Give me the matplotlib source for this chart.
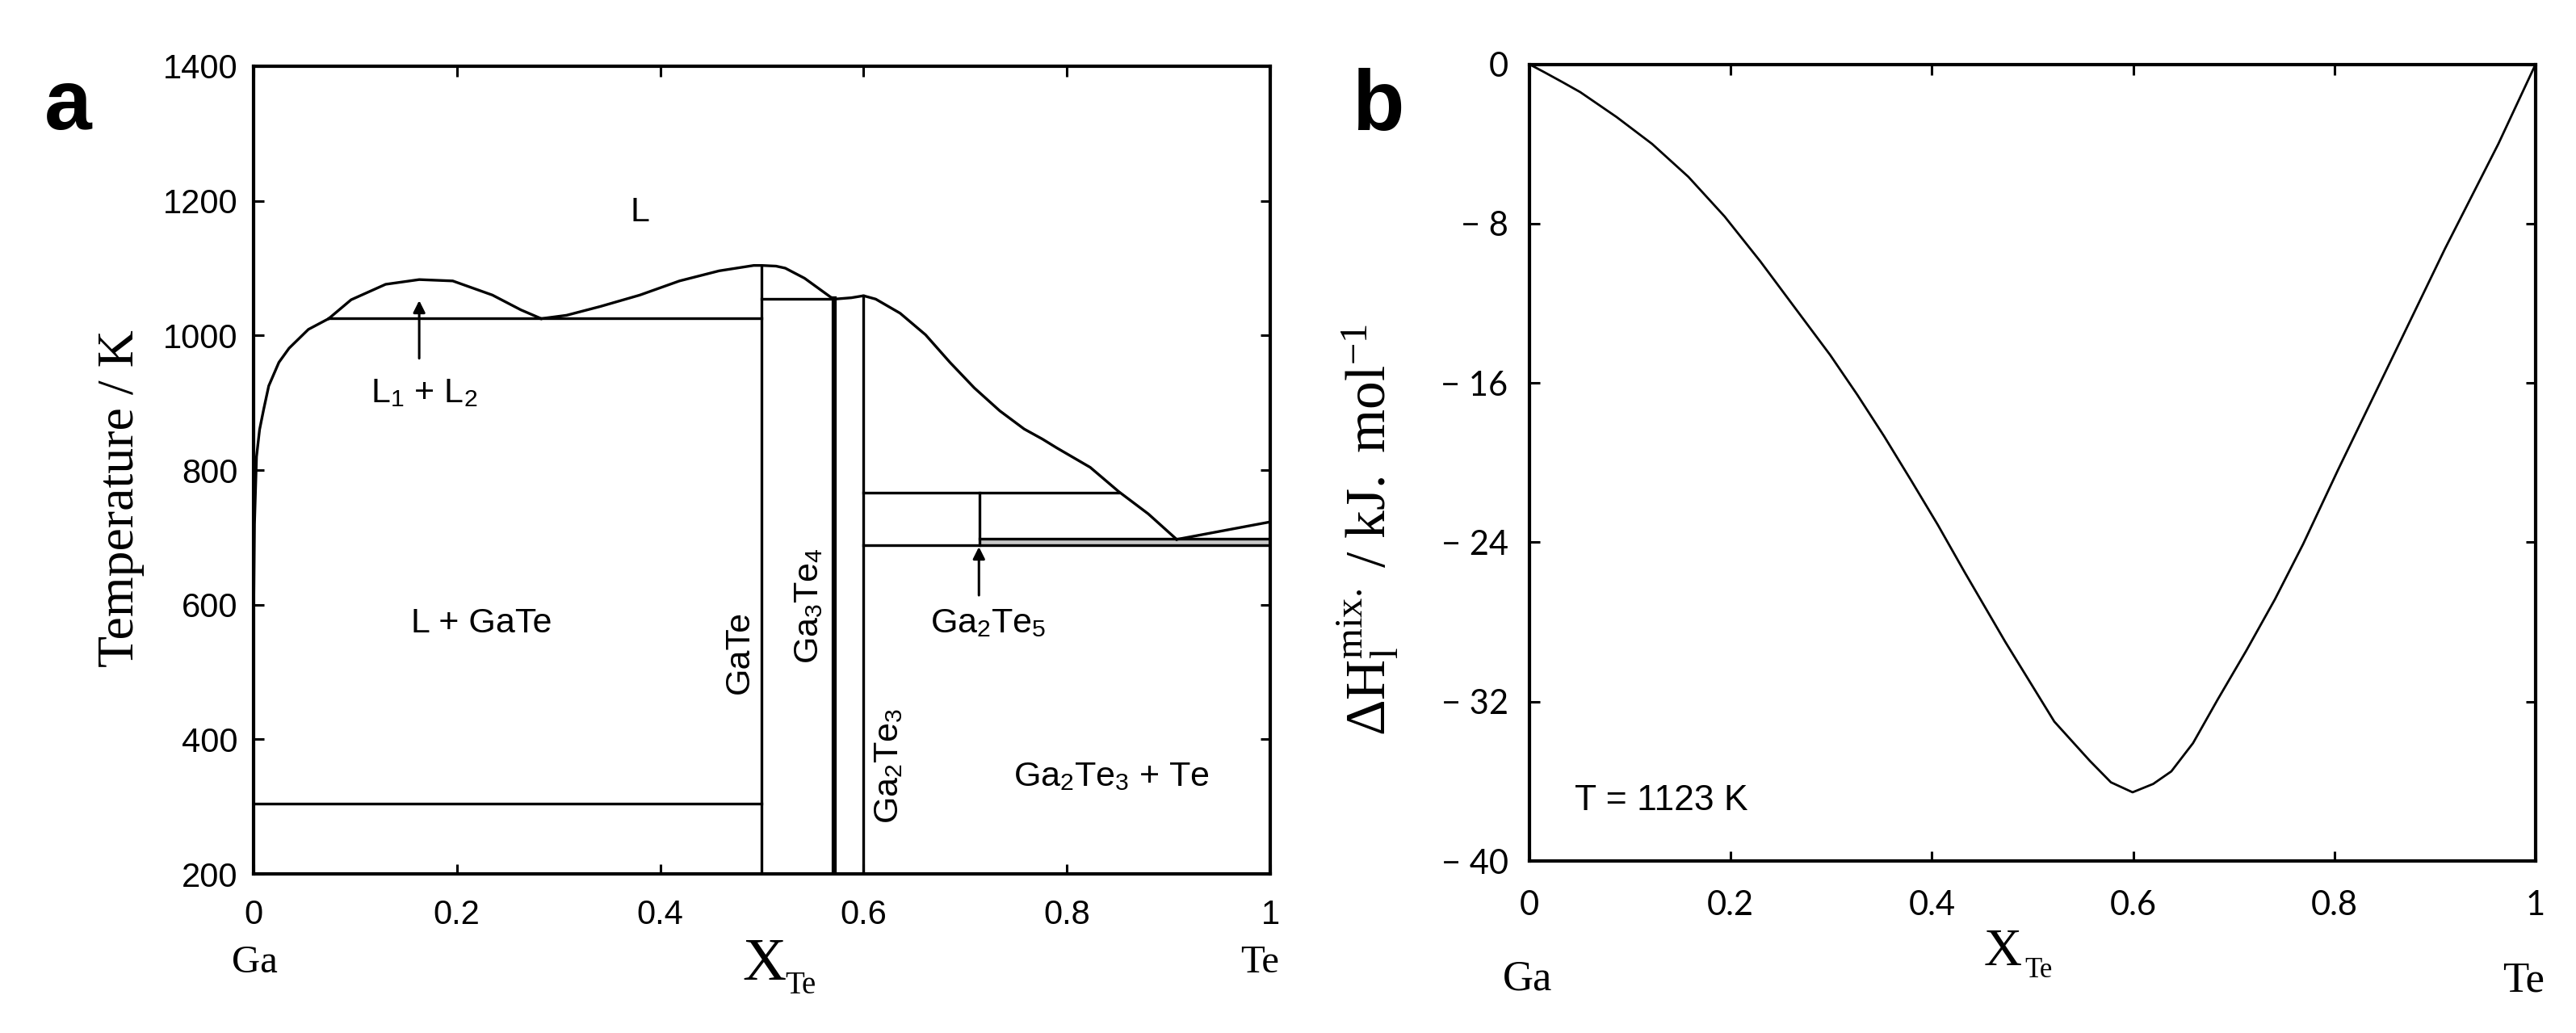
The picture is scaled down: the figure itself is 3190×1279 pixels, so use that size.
import matplotlib
matplotlib.use('Agg')
import matplotlib.pyplot as plt

plt.rcParams['mathtext.fontset'] = 'custom'
plt.rcParams['mathtext.rm'] = 'Liberation Serif'
plt.rcParams['mathtext.it'] = 'Liberation Serif:italic'
plt.rcParams['mathtext.bf'] = 'Liberation Serif:bold'
plt.rcParams['mathtext.sf'] = 'Liberation Sans'

# ---------- panel a: Ga-Te phase diagram ----------
ga_liq_x = [0.0, 0.001, 0.003, 0.006, 0.010, 0.015, 0.025, 0.035, 0.054, 0.074]
ga_liq_T = [560, 720, 820, 860, 890, 925, 960, 981, 1009, 1025]

dome_x = [0.074, 0.096, 0.130, 0.163, 0.196, 0.235, 0.263, 0.283]
dome_T = [1025, 1053, 1076, 1083, 1081, 1060, 1038, 1025]

gate_liq_x = [0.283, 0.308, 0.341, 0.380, 0.419, 0.458, 0.492, 0.500, 0.514, 0.523, 0.542, 0.5676, 0.5714]
gate_liq_T = [1025, 1030, 1043, 1060, 1081, 1096, 1104, 1104, 1103, 1100, 1085, 1057, 1054]

ga2te3_liq_x = [0.5714, 0.588, 0.600, 0.612, 0.636, 0.661, 0.685, 0.709, 0.734, 0.758,
                0.776, 0.790, 0.823, 0.851, 0.880, 0.908]
ga2te3_liq_T = [1054, 1056, 1059, 1054, 1033, 1001, 960, 922, 888, 861,
                846, 833, 804, 768, 735, 697]

te_liq_x = [0.908, 1.0]
te_liq_T = [697, 723]

# horizontal invariant lines: (x_start, x_end, T)
hlines_a = [
    (0.074, 0.500, 1025),
    (0.500, 0.5714, 1054),
    (0.600, 0.851, 767),
    (0.714, 1.000, 698),
    (0.600, 1.000, 688),
    (0.000, 0.500, 305),
]
# vertical compound lines: (x, T_bottom, T_top, width)
vlines_a = [
    (0.500, 200, 1104, 2.4),
    (0.5714, 200, 1054, 4.5),
    (0.600, 200, 1059, 2.4),
    (0.714, 688, 767, 2.4),
]

# ---------- panel b: enthalpy of mixing at 1123 K ----------
xte_b = [0.0, 0.0149, 0.033, 0.0506, 0.0867, 0.122, 0.158, 0.194, 0.2296, 0.2656,
         0.299, 0.326, 0.3525, 0.3795, 0.406, 0.4326, 0.473, 0.5217, 0.557, 0.578,
         0.5995, 0.620, 0.638, 0.6596, 0.684, 0.7125, 0.741, 0.769, 0.804, 0.857,
         0.910, 0.963, 1.0]
dh_b = [0.0, -0.4, -0.9, -1.4, -2.65, -4.0, -5.65, -7.64, -9.9, -12.34,
        -14.6, -16.6, -18.67, -20.9, -23.13, -25.5, -29.0, -33.0, -34.97, -36.05,
        -36.55, -36.13, -35.5, -34.08, -31.9, -29.44, -26.86, -24.09, -20.33, -14.8,
        -9.26, -4.0, 0.0]

x_ticks = [0, 0.2, 0.4, 0.6, 0.8, 1.0]
x_ticklabels = ['0', '0.2', '0.4', '0.6', '0.8', '1']
T_ticks = [200, 400, 600, 800, 1000, 1200, 1400]
dh_ticks = [0, -8, -16, -24, -32, -40]
dh_ticklabels = ['0', '\u2212 8', '\u2212 16', '\u2212 24', '\u2212 32', '\u2212 40']

fig = plt.figure(figsize=(31.9, 12.79), dpi=100)
ax1 = fig.add_axes([0.0984, 0.1540, 0.3947, 0.7819])
ax2 = fig.add_axes([0.5937, 0.1665, 0.3906, 0.7713])

lw = 2.4
sans = 'Liberation Sans'
serif = 'Liberation Serif'

# --- panel a
for xs, Ts in [(ga_liq_x, ga_liq_T), (dome_x, dome_T), (gate_liq_x, gate_liq_T),
               (ga2te3_liq_x, ga2te3_liq_T), (te_liq_x, te_liq_T)]:
    ax1.plot(xs, Ts, color='k', lw=lw, solid_joinstyle='round')
for x0, x1, T in hlines_a:
    ax1.plot([x0, x1], [T, T], color='k', lw=lw)
for x, T0, T1, w in vlines_a:
    ax1.plot([x, x], [T0, T1], color='k', lw=w)
ax1.fill_between([0.714, 1.0], 688, 698, color='#c8c8c8', lw=0, zorder=1)

arrow = dict(arrowstyle='-|>', color='k', lw=2.2, mutation_scale=22, shrinkA=0, shrinkB=0)
ax1.annotate('', xy=(0.163, 1052), xytext=(0.163, 966), arrowprops=arrow)
ax1.annotate('', xy=(0.7135, 686), xytext=(0.7135, 614), arrowprops=arrow)

lab = dict(fontsize=31, family=sans, color='k')
ax1.text(0.380, 1170, 'L', ha='center', va='baseline', **lab)
ax1.text(0.1676, 901, r'L$_\mathsf{1}$ + L$_\mathsf{2}$', ha='center', va='baseline', **lab)
ax1.text(0.224, 559, 'L + GaTe', ha='center', va='baseline', **lab)
ax1.text(0.6657, 558, r'Ga$_\mathsf{2}$Te$_\mathsf{5}$', ha='left', va='baseline', **lab)
ax1.text(0.7474, 330, r'Ga$_\mathsf{2}$Te$_\mathsf{3}$ + Te', ha='left', va='baseline', **lab)
ax1.text(0.478, 529, 'GaTe', rotation=90, ha='center', va='center', **lab)
ax1.text(0.547, 598, r'Ga$_\mathsf{3}$Te$_\mathsf{4}$', rotation=90, ha='center', va='center', **lab)
ax1.text(0.6251, 361, r'Ga$_\mathsf{2}$Te$_\mathsf{3}$', rotation=90, ha='center', va='center', **lab)

ax1.set_xlim(0, 1)
ax1.set_ylim(200, 1400)
ax1.set_xticks(x_ticks)
ax1.set_xticklabels(x_ticklabels, family=sans, fontsize=30)
ax1.set_yticks(T_ticks)
ax1.set_yticklabels([str(t) for t in T_ticks], family=sans, fontsize=30)
ax1.tick_params(direction='in', length=9, width=2.2, top=True, right=True)
ax1.tick_params(axis='x', pad=22)
ax1.tick_params(axis='y', pad=14)
for s in ax1.spines.values():
    s.set_linewidth(3)

ax1.set_ylabel('Temperature / K', family=serif, fontsize=46)
ax1.yaxis.set_label_coords(-0.107, 0.465)
ax1.text(0.4805, -0.131, 'X', transform=ax1.transAxes, family=serif, fontsize=54,
         ha='left', va='baseline')
ax1.text(0.5226, -0.148, 'Te', transform=ax1.transAxes, family=serif, fontsize=28,
         ha='left', va='baseline')
ax1.text(0.001, -0.122, 'Ga', transform=ax1.transAxes, family=serif, fontsize=35,
         ha='center', va='baseline')
ax1.text(0.99, -0.122, 'Te', transform=ax1.transAxes, family=serif, fontsize=35,
         ha='center', va='baseline')

# --- panel b
ax2.plot(xte_b, dh_b, color='k', lw=2.0, solid_joinstyle='round')
ax2.text(0.045, -37.45, 'T = 1123 K', family=sans, fontsize=32, ha='left', va='baseline')
ax2.set_xlim(0, 1)
ax2.set_ylim(-40, 0)
ax2.set_xticks(x_ticks)
ax2.set_xticklabels(x_ticklabels, family=['Lato', 'DejaVu Sans'], fontsize=30)
ax2.set_yticks(dh_ticks)
ax2.set_yticklabels(dh_ticklabels, family=['Lato', 'DejaVu Sans'], fontsize=30)
ax2.tick_params(direction='in', length=9, width=2.2, top=True, right=True)
ax2.tick_params(axis='x', pad=26)
ax2.tick_params(axis='y', pad=19)
for s in ax2.spines.values():
    s.set_linewidth(3)

ax2.set_ylabel(r'$\Delta\mathrm{H}_\mathrm{l}^\mathrm{mix.}\ /\ \mathrm{kJ.\ mol}^{-1}$', fontsize=50)
ax2.yaxis.set_label_coords(-0.128, 0.4156)
ax2.text(0.4518, -0.1308, 'X', transform=ax2.transAxes, family=serif, fontsize=47,
         ha='left', va='baseline')
ax2.text(0.492, -0.146, 'Te', transform=ax2.transAxes, family=serif, fontsize=25,
         ha='left', va='baseline')
ax2.text(-0.002, -0.162, 'Ga', transform=ax2.transAxes, family=serif, fontsize=38,
         ha='center', va='baseline')
ax2.text(0.988, -0.164, 'Te', transform=ax2.transAxes, family=serif, fontsize=38,
         ha='center', va='baseline')

# panel letters
fig.text(0.0172, 0.8749, 'a', family=sans, weight='bold', fontsize=76, ha='left', va='baseline')
fig.text(0.5248, 0.8741, 'b', family=sans, weight='bold', fontsize=76, ha='left', va='baseline')

fig.savefig('out.png', dpi=100, facecolor='white')
